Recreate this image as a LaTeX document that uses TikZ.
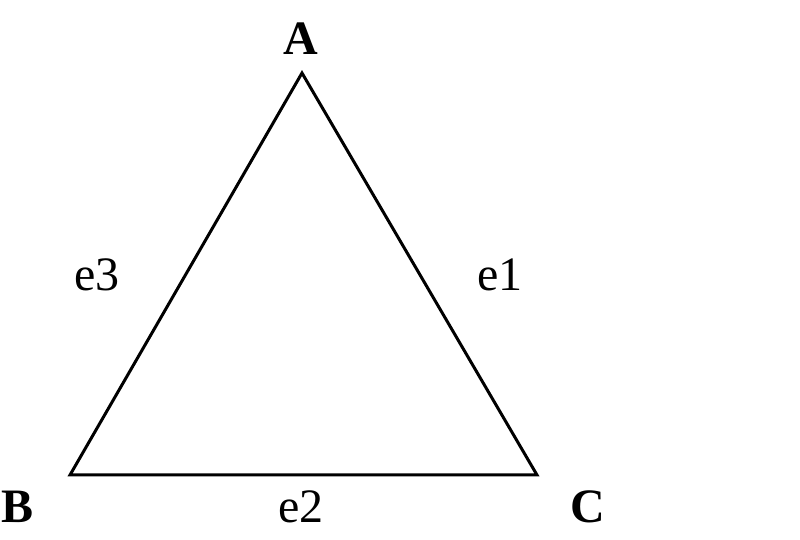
\documentclass[tikz,border=0pt]{standalone}
\usepackage{fontspec}
\setmainfont{Liberation Serif}
\usetikzlibrary{positioning}

\begin{document}
\begin{tikzpicture}[x=0.5pt, y=-0.5pt, font=\fontsize{24}{28}\selectfont,
    vlabel/.style={font=\fontsize{24}{28}\selectfont\bfseries, anchor=base},
    elabel/.style={anchor=base}]
                        \useasboundingbox (0,0) rectangle (800,540);
                        \coordinate (a) at (302, 73);
                        \coordinate (b) at (70, 475);
                        \coordinate (c) at (537, 475);
                        \node[vlabel] (la) at (301, 55) {A};
                        \node[vlabel] (lb) at (18, 523) {B};
                        \node[vlabel] (lc) at (588, 523) {C};
                        \node[elabel] (e3) at (97, 291) {e3};
                        \node[elabel] (e1) at (500, 291) {e1};
                        \node[elabel] (e2) at (301, 523) {e2};
                        \draw[line width=1.5pt, line join=miter]
                        (a) -- (b) -- (c) -- cycle;
                    \end{tikzpicture}
\end{document}
